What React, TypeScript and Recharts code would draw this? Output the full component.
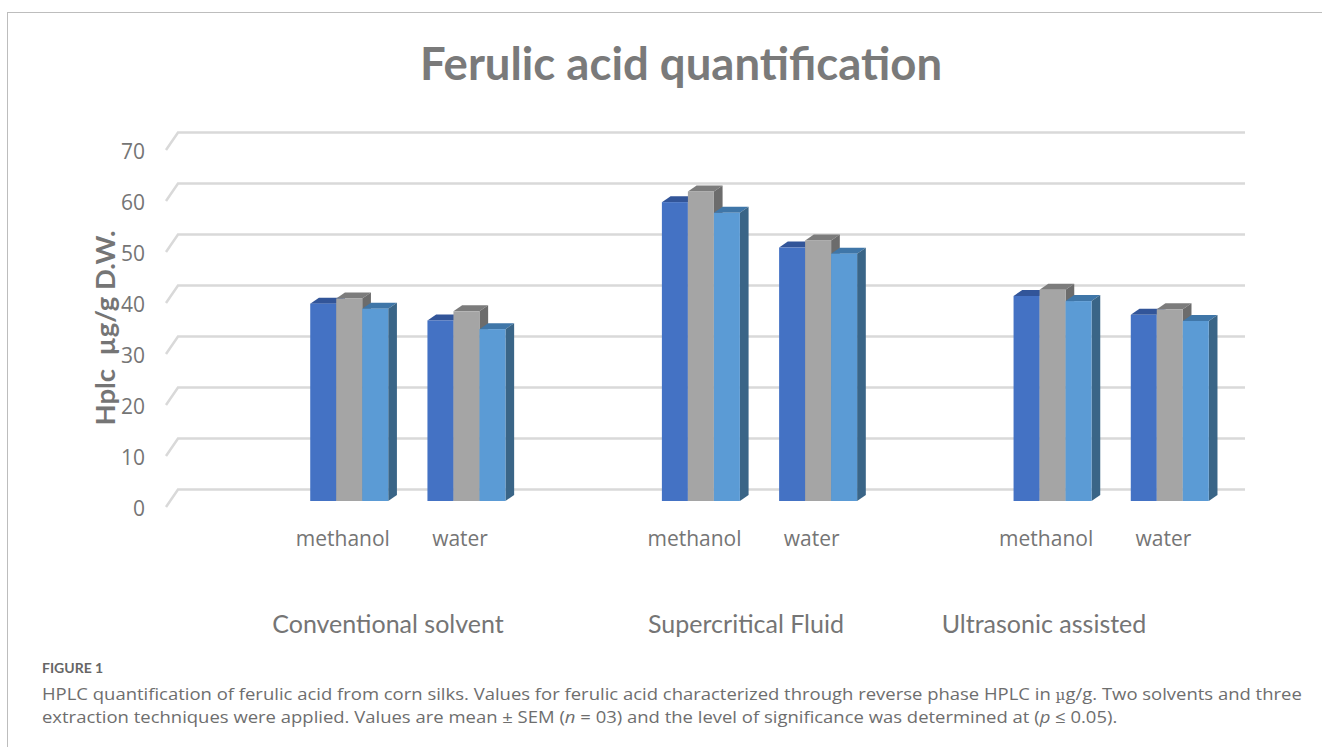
import React from "react";
import { Bar, BarChart, CartesianGrid, XAxis, YAxis } from "recharts";

const categories = ["", "methanol", "water", "", "methanol", "water", "", "methanol", "water"];
const seriesOne = [null, 38.7, 35.4, null, 58.6, 49.7, null, 40.2, 36.5];
const seriesTwo = [null, 39.7, 37.2, null, 60.7, 51.1, null, 41.4, 37.6];
const seriesThree = [null, 37.7, 33.7, null, 56.5, 48.5, null, 39.2, 35.3];
const yTicks = [0, 10, 20, 30, 40, 50, 60, 70];

const data = categories.map((name, i) => ({
  name,
  one: seriesOne[i],
  two: seriesTwo[i],
  three: seriesThree[i],
}));

const GREY_TEXT = "#757575";
const GRID = "#d9d9d9";
const DEPTH_X = 8.7;
const DEPTH_Y = 6;

// excel style 3d column: front face, top and right side
const column3d = (front: string, top: string, side: string) => (props: any) => {
  const { x, y, width, height } = props;
  if (!height) return <g />;
  const r = x + width;
  const b = y + height;
  return (
    <g>
      <polygon
        points={`${x},${y} ${x + DEPTH_X},${y - DEPTH_Y} ${r + DEPTH_X},${y - DEPTH_Y} ${r},${y}`}
        fill={top}
      />
      <polygon
        points={`${r},${y} ${r + DEPTH_X},${y - DEPTH_Y} ${r + DEPTH_X},${b - DEPTH_Y} ${r},${b}`}
        fill={side}
      />
      <rect x={x} y={y} width={width} height={height} fill={front} />
    </g>
  );
};

// gridline on the back wall with the diagonal down the side wall
const wallLine = (props: any) => {
  const { x1, x2, y1, key } = props;
  return (
    <polyline
      key={key}
      points={`${x1 - 7},${y1 + 6} ${x1 + 5},${y1 - 11.5} ${x2 + 17},${y1 - 11.5}`}
      fill="none"
      stroke={GRID}
      strokeWidth={2.5}
    />
  );
};

const ValueTick = (props: any) => (
  <text
    x={props.x - 20}
    y={props.y + 7}
    textAnchor="end"
    dominantBaseline="central"
    fontFamily="Open Sans"
    fontSize={21}
    fill={GREY_TEXT}
  >
    {props.payload.value}
  </text>
);

const SolventTick = (props: any) => (
  <text
    x={props.x - 6}
    y={props.y + 29}
    textAnchor="middle"
    dominantBaseline="central"
    fontFamily="Open Sans"
    fontSize={21}
    fill={GREY_TEXT}
  >
    {props.payload.value}
  </text>
);

const groupStyle: React.CSSProperties = {
  position: "absolute",
  top: 607,
  fontFamily: "Lato",
  fontSize: 25,
  lineHeight: "32px",
  color: GREY_TEXT,
  whiteSpace: "nowrap",
  transform: "translateX(-50%)",
};

const mathFont = "'DejaVu Serif'";

export default function App() {
  return (
    <div
      style={{
        position: "absolute",
        left: 0,
        top: 0,
        width: 1322,
        height: 747,
        background: "#fff",
        overflow: "hidden",
      }}
    >
      <div style={{ position: "absolute", left: 7, top: 12, right: 0, height: 1, background: "#bdbdbd" }} />
      <div style={{ position: "absolute", left: 7, top: 12, bottom: 0, width: 1, background: "#bdbdbd" }} />

      <div
        style={{
          position: "absolute",
          left: 681,
          top: 35,
          transform: "translateX(-50%)",
          fontFamily: "Lato",
          fontWeight: 700,
          fontSize: 45.5,
          lineHeight: "56px",
          color: "#7a7a7a",
          whiteSpace: "nowrap",
        }}
      >
        Ferulic acid quantification
      </div>

      <BarChart
        width={1322}
        height={600}
        data={data}
        barSize={26}
        barGap={0}
        margin={{ top: 144, right: 94, bottom: 39, left: 0 }}
        style={{ position: "absolute", left: 0, top: 0 }}
      >
        <CartesianGrid vertical={false} horizontal={wallLine} />
        <XAxis
          dataKey="name"
          height={60}
          interval={0}
          axisLine={false}
          tickLine={false}
          tick={<SolventTick />}
        />
        <YAxis
          width={173}
          domain={[0, 70]}
          ticks={yTicks}
          axisLine={false}
          tickLine={false}
          tick={<ValueTick />}
        />
        <Bar dataKey="one" isAnimationActive={false} shape={column3d("#4472c4", "#325599", "#2f5597")} />
        <Bar dataKey="two" isAnimationActive={false} shape={column3d("#a5a5a5", "#7c7c7c", "#6c6c6c")} />
        <Bar dataKey="three" isAnimationActive={false} shape={column3d("#5b9bd5", "#3f76a8", "#3a6587")} />
      </BarChart>

      <div
        style={{
          position: "absolute",
          left: 104,
          top: 328,
          transform: "translate(-50%, -50%) rotate(-90deg)",
          fontFamily: "Lato",
          fontWeight: 700,
          fontSize: 27.5,
          color: GREY_TEXT,
          whiteSpace: "pre",
        }}
      >
        {"Hplc  µg/g D.W."}
      </div>

      <div style={{ ...groupStyle, left: 388 }}>Conventional solvent</div>
      <div style={{ ...groupStyle, left: 746 }}>Supercritical Fluid</div>
      <div style={{ ...groupStyle, left: 1044 }}>Ultrasonic assisted</div>

      <div
        style={{
          position: "absolute",
          left: 42,
          top: 660,
          fontFamily: "Lato",
          fontWeight: 700,
          fontSize: 14,
          lineHeight: "16px",
          color: "#666",
        }}
      >
        FIGURE 1
      </div>
      <div
        style={{
          position: "absolute",
          left: 42,
          top: 683,
          fontFamily: "Open Sans",
          fontSize: 17,
          lineHeight: "22px",
          color: "#6e6e6e",
          whiteSpace: "nowrap",
          transform: "scaleX(1.086)",
          transformOrigin: "left top",
        }}
      >
        HPLC quantification of ferulic acid from corn silks. Values for ferulic acid characterized through reverse phase HPLC in{" "}
        <span style={{ fontFamily: mathFont, fontSize: 14 }}>µ</span>g/g. Two solvents and three
        <br />
        extraction techniques were applied. Values are mean ± SEM (<i>n</i> = 03) and the level of significance was
        determined at (<i>p</i> ≤ 0.05).
      </div>
    </div>
  );
}
